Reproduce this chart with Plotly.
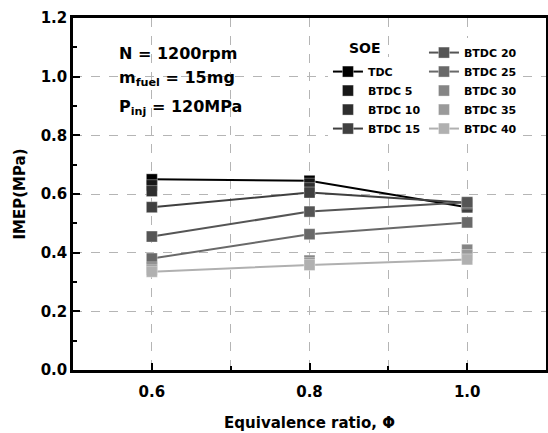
import plotly.graph_objects as go

phi = [0.6, 0.8, 1.0]
names = ["TDC", "BTDC 5", "BTDC 10", "BTDC 15", "BTDC 20", "BTDC 25", "BTDC 30", "BTDC 35", "BTDC 40"]
tdc = [0.65, 0.645, 0.555]
btdc5 = [0.63, 0.635, 0.56]
btdc10 = [0.61, 0.62, 0.565]
btdc15 = [0.555, 0.605, 0.57]
btdc20 = [0.455, 0.54, 0.572]
btdc25 = [0.38, 0.463, 0.503]
btdc30 = [0.35, 0.373, 0.41]
btdc35 = [0.342, 0.365, 0.392]
btdc40 = [0.335, 0.358, 0.377]
series = [tdc, btdc5, btdc10, btdc15, btdc20, btdc25, btdc30, btdc35, btdc40]
colors = ["#000000", "#171717", "#2e2e2e", "#404040", "#555555", "#696969", "#858585", "#9a9a9a", "#b0b0b0"]
with_line = [True, False, False, True, True, True, False, False, True]

FONT = "DejaVu Sans"
fig = go.Figure()
for i, (nm, ys, c, wl) in enumerate(zip(names, series, colors, with_line)):
    fig.add_trace(go.Scatter(
        x=phi, y=ys, name=nm,
        mode="lines+markers" if wl else "markers",
        line=dict(color=c, width=2),
        marker=dict(symbol="square", size=11, color=c,
                    line=dict(color="rgba(255,255,255,0.35)", width=1)),
        legend="legend" if i < 4 else "legend2",
    ))

leg_common = dict(font=dict(family=FONT, size=11, color="black", weight="bold"),
                  bgcolor="white", borderwidth=0, tracegroupgap=0,
                  xanchor="left", yanchor="top")

fig.update_layout(
    width=548, height=433,
    margin=dict(l=73, r=2, t=18, b=63, autoexpand=False),
    plot_bgcolor="white", paper_bgcolor="white",
    font=dict(family=FONT, color="black"),
    showlegend=True,
    legend=dict(x=0.539, y=0.889, **leg_common),
    legend2=dict(x=0.742, y=0.943, **leg_common),
    xaxis=dict(
        range=[0.5, 1.1], tickvals=[0.6, 0.8, 1.0], ticktext=["0.6", "0.8", "1.0"],
        ticks="inside", ticklen=7, tickwidth=2, tickcolor="black",
        showline=True, linewidth=2.5, linecolor="black", mirror=True,
        showgrid=True, gridcolor="#b5b5b5", griddash="dash", gridwidth=1,
        minor=dict(tickvals=[0.5, 0.7, 0.9, 1.1], ticks="inside", ticklen=4, tickwidth=2,
                   tickcolor="black", showgrid=True, gridcolor="#b5b5b5", griddash="dash"),
        tickfont=dict(family=FONT, size=15, weight="bold"),
        ticklabelstandoff=6,
        title=dict(text="Equivalence ratio, Φ", font=dict(family=FONT, size=15, weight="bold"), standoff=18),
        zeroline=False, automargin=False,
    ),
    yaxis=dict(
        range=[0, 1.2], tickvals=[0, 0.2, 0.4, 0.6, 0.8, 1.0, 1.2],
        ticktext=["0.0", "0.2", "0.4", "0.6", "0.8", "1.0", "1.2"],
        ticks="inside", ticklen=7, tickwidth=2, tickcolor="black",
        showline=True, linewidth=2.5, linecolor="black", mirror=True,
        showgrid=True, gridcolor="#b5b5b5", griddash="dash", gridwidth=1,
        minor=dict(tickvals=[0.1, 0.3, 0.5, 0.7, 0.9, 1.1], ticks="inside", ticklen=4,
                   tickwidth=2, tickcolor="black", showgrid=False),
        tickfont=dict(family=FONT, size=15, weight="bold"),
        title=dict(text="IMEP(MPa)", font=dict(family=FONT, size=15, weight="bold"), standoff=12),
        zeroline=False, automargin=False,
    ),
)

ann_font = dict(family=FONT, size=16, color="black", weight="bold")
fig.add_annotation(xref="paper", yref="paper", x=0.093, y=0.898, xanchor="left", yanchor="middle",
                   text="N = 1200rpm", showarrow=False, font=ann_font)
fig.add_annotation(xref="paper", yref="paper", x=0.093, y=0.827, xanchor="left", yanchor="middle",
                   text="m<sub>fuel</sub> = 15mg", showarrow=False, font=ann_font)
fig.add_annotation(xref="paper", yref="paper", x=0.093, y=0.747, xanchor="left", yanchor="middle",
                   text="P<sub>inj</sub> = 120MPa", showarrow=False, font=ann_font)
fig.add_annotation(xref="paper", yref="paper", x=0.58, y=0.915, xanchor="left", yanchor="middle",
                   text="SOE", showarrow=False, font=dict(family=FONT, size=14, color="black", weight="bold"))

fig.write_html("out.html", config={"displayModeBar": False},
               post_script="document.body.style.margin='0';")
